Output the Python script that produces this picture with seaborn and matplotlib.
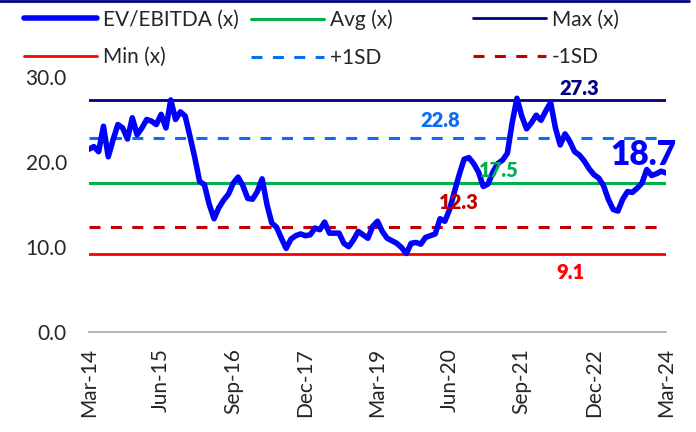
import numpy as np
import pandas as pd
import seaborn as sns
import matplotlib.pyplot as plt
from matplotlib.lines import Line2D

sns.set_style("white")
plt.rcParams['font.family'] = ['Lato', 'DejaVu Sans']

# monthly EV/EBITDA multiple, Mar-14 .. Mar-24
ev_ebitda = [21.5, 21.8, 21.2, 24.2, 20.6, 22.6, 24.4, 24.0, 22.7, 25.2,
             23.2, 24.0, 25.0, 24.8, 24.4, 25.6, 24.0, 27.3, 25.0, 25.9,
             25.4, 23.0, 20.5, 17.7, 17.3, 15.0, 13.3, 14.6, 15.5, 16.2,
             17.5, 18.2, 17.2, 15.7, 15.6, 16.5, 18.0, 15.0, 12.8, 12.3,
             11.0, 9.8, 10.9, 11.3, 11.5, 11.3, 11.4, 12.2, 12.0, 12.9,
             11.6, 11.6, 11.6, 10.4, 10.0, 10.8, 11.8, 11.4, 11.0, 12.4,
             13.0, 11.8, 11.0, 10.7, 10.4, 9.9, 9.2, 10.4, 10.5, 10.3,
             11.1, 11.3, 11.5, 13.3, 13.0, 14.4, 16.5, 18.5, 20.3, 20.5,
             19.8, 18.8, 17.1, 17.4, 18.8, 19.8, 20.2, 21.0, 24.6, 27.5,
             25.4, 23.9, 24.6, 25.5, 24.9, 26.0, 27.0, 24.0, 22.0, 23.3,
             22.4, 21.2, 20.8, 20.1, 19.2, 18.5, 18.1, 17.2, 15.6, 14.4,
             14.2, 15.6, 16.5, 16.4, 16.9, 17.5, 19.1, 18.4, 18.6, 18.9, 18.7]
months = pd.date_range("2014-03-01", periods=len(ev_ebitda), freq="MS")
tick_every = 15

avg_val = 17.5
max_val = 27.3
min_val = 9.1
plus_sd = 22.8
minus_sd = 12.3
last_val = ev_ebitda[-1]

df = pd.DataFrame({"t": np.arange(len(ev_ebitda)), "ev": ev_ebitda})

fig = plt.figure(figsize=(6.96, 4.32), dpi=100)
ax = fig.add_axes([0.1279, 0.2326, 0.829, 0.589])

c_blue, c_green, c_navy = "#0000FF", "#00B050", "#000080"
c_red, c_lblue, c_dred = "#FF0000", "#0A6EF5", "#C00000"

ax.axhline(avg_val, color=c_green, lw=2.2, label="Avg (x)")
ax.axhline(max_val, color=c_navy, lw=2.0, label="Max (x)")
ax.axhline(min_val, color=c_red, lw=2.0, label="Min (x)")
ax.axhline(plus_sd, color=c_lblue, lw=2.2, ls=(0, (3.6, 3.4)), label="+1SD")
ax.axhline(minus_sd, color=c_dred, lw=2.2, ls=(0, (3.6, 3.4)), label="-1SD")
sns.lineplot(data=df, x="t", y="ev", ax=ax, color=c_blue, lw=4,
             label="EV/EBITDA (x)", legend=False,
             solid_joinstyle="round", solid_capstyle="round")

# value labels
lab = dict(fontweight="heavy", ha="center", va="center", fontsize=14.5)
ax.text(101.9, 28.7, f"{max_val:.1f}", color=c_navy, **lab)
ax.text(73.0, 24.85, f"{plus_sd:.1f}", color=c_lblue, **lab)
ax.text(85.3, 18.95, f"{avg_val:.1f}", color=c_green, **lab)
ax.text(77.0, 15.2, f"{minus_sd:.1f}", color=c_dred, **lab)
ax.text(100.2, 6.9, f"{min_val:.1f}", color=c_red, **lab)
ax.text(115.4, 20.8, f"{last_val:.1f}", color=c_blue, fontweight="heavy",
        ha="center", va="center", fontsize=24)

ax.set_xlim(0, len(ev_ebitda) - 1)
ax.set_ylim(0, 30)
ax.set_yticks([0, 10, 20, 30])
ax.set_yticklabels([f"{v:.1f}" for v in [0, 10, 20, 30]])
ticks = list(range(0, len(ev_ebitda), tick_every))
ax.set_xticks(ticks)
ax.set_xticklabels([months[i].strftime("%b-%y") for i in ticks], rotation=90)
ax.tick_params(axis="y", length=0, pad=16, labelsize=15)
ax.tick_params(axis="x", length=0, pad=12, labelsize=15)
ax.set_xlabel("")
ax.set_ylabel("")
for s in ["top", "right", "left"]:
    ax.spines[s].set_visible(False)
ax.spines["bottom"].set_color("#A6A6A6")
ax.spines["bottom"].set_linewidth(1.2)

# legend: three fixed-width columns
h, l = ax.get_legend_handles_labels()
hd = dict(zip(l, h))
cols = [["EV/EBITDA (x)", "Min (x)"], ["Avg (x)", "+1SD"], ["Max (x)", "-1SD"]]
col_x = [24, 251, 473]
for names, x0 in zip(cols, col_x):
    fig.legend([hd[n] for n in names], names, loc="upper left",
               bbox_to_anchor=(x0 / 696, 0.978), frameon=False, fontsize=15,
               handlelength=3.5, handletextpad=0.3, borderpad=0,
               borderaxespad=0, labelspacing=0.85)

fig.add_artist(Line2D([0, 0.99], [0.997, 0.997], color=c_navy, lw=2))

fig.savefig("out.png", dpi=100)
